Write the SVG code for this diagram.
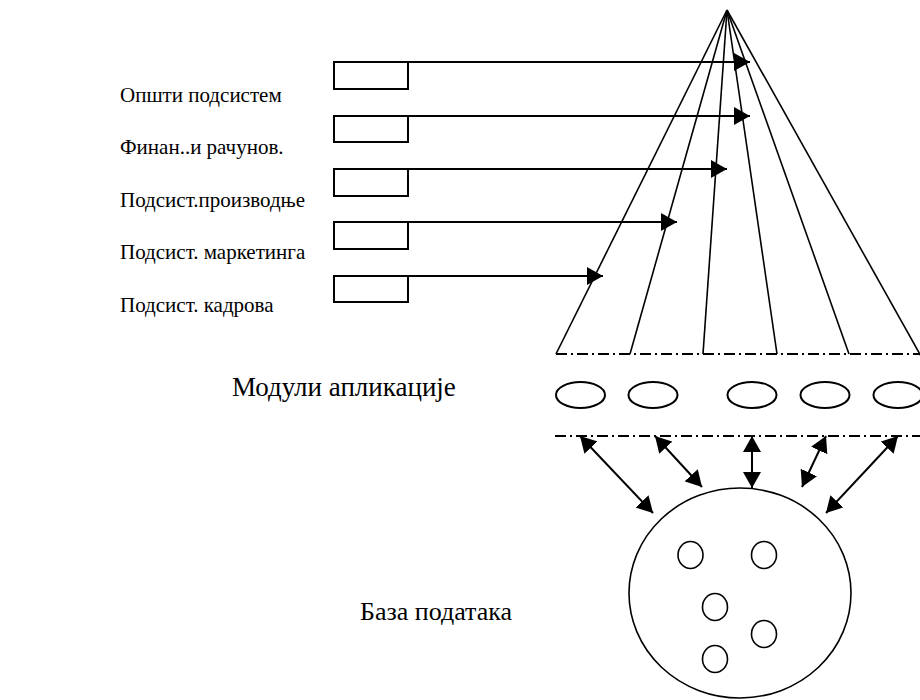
<svg xmlns="http://www.w3.org/2000/svg" width="920" height="700" viewBox="0 0 920 700">
  <style>
    .lbl { font-family: "Liberation Serif", "Times New Roman", serif; font-size: 21px; fill: #000; }
    .big { font-size: 27px; }
    .box { fill: #fff; stroke: #000; stroke-width: 2; }
    .fan { stroke: #000; stroke-width: 1.6; fill: none; }
    .feed { stroke: #000; stroke-width: 2.2; fill: none; marker-end: url(#head); }
    .link { stroke: #000; stroke-width: 2; fill: none; marker-start: url(#head); marker-end: url(#head); }
    .sep { stroke: #000; stroke-width: 2; stroke-dasharray: 11 4 2 4; fill: none; }
    .mod { fill: #fff; stroke: #000; stroke-width: 2; }
    .db { fill: #fff; stroke: #000; stroke-width: 1.6; }
  </style>
  <defs>
    <marker id="head" markerUnits="userSpaceOnUse" markerWidth="17" markerHeight="18" refX="16" refY="9" orient="auto-start-reverse">
      <path d="M0,0 L16,9 L0,18 z" fill="#000"/>
    </marker>
  </defs>
  <rect width="920" height="700" fill="#fff"/>

  <!-- subsystem labels -->
  <g id="labels">
    <text class="lbl" x="120" y="102">Општи подсистем</text>
    <text class="lbl" x="120" y="154">Финан..и рачунов.</text>
    <text class="lbl" x="120" y="207">Подсист.производње</text>
    <text class="lbl" x="120" y="259">Подсист. маркетинга</text>
    <text class="lbl" x="120" y="312">Подсист. кадрова</text>
  </g>

  <!-- subsystem boxes -->
  <g id="box-opsti"><rect class="box" x="334" y="62" width="74" height="27"/></g>
  <g id="box-finan"><rect class="box" x="334" y="116" width="74" height="26"/></g>
  <g id="box-proizv"><rect class="box" x="334" y="169" width="74" height="27"/></g>
  <g id="box-market"><rect class="box" x="334" y="222" width="74" height="27"/></g>
  <g id="box-kadrovi"><rect class="box" x="334" y="276" width="74" height="26"/></g>

  <!-- application modules layer -->
  <g id="modules">
    <text class="lbl big" x="232" y="396">Модули апликације</text>
    <ellipse class="mod" cx="580.5" cy="395" rx="24.5" ry="13"/>
    <ellipse class="mod" cx="653" cy="395" rx="24.5" ry="13"/>
    <ellipse class="mod" cx="752" cy="395" rx="24.5" ry="13"/>
    <ellipse class="mod" cx="825" cy="395" rx="24.5" ry="13"/>
    <ellipse class="mod" cx="898" cy="395" rx="24.5" ry="13"/>
  </g>

  <!-- database -->
  <g id="database">
    <text class="lbl big" x="360" y="620" style="font-size:26px">База података</text>
    <ellipse class="db" cx="740" cy="593" rx="111" ry="105"/>
    <ellipse class="db" cx="690.5" cy="555" rx="12.5" ry="13.5"/>
    <ellipse class="db" cx="764" cy="555" rx="12.5" ry="13.5"/>
    <ellipse class="db" cx="715" cy="607" rx="12.5" ry="13.5"/>
    <ellipse class="db" cx="764" cy="634" rx="12.5" ry="13.5"/>
    <ellipse class="db" cx="715" cy="659" rx="12.5" ry="13.5"/>
  </g>

  <!-- connectors -->
  <g id="connectors">
    <!-- fan from the top point down to the module layer -->
    <line class="fan" x1="727" y1="10" x2="556" y2="354"/>
    <line class="fan" x1="727" y1="10" x2="630" y2="354"/>
    <line class="fan" x1="727" y1="10" x2="703" y2="354"/>
    <line class="fan" x1="727" y1="10" x2="777" y2="354"/>
    <line class="fan" x1="727" y1="10" x2="849" y2="354"/>
    <line class="fan" x1="727" y1="10" x2="922" y2="358"/>

    <!-- layer separators -->
    <line class="sep" x1="556" y1="354" x2="920" y2="354"/>
    <line class="sep" x1="555" y1="436" x2="920" y2="436"/>

    <!-- subsystem feeds -->
    <line class="feed" x1="408" y1="62" x2="750" y2="62"/>
    <line class="feed" x1="408" y1="116" x2="750" y2="116"/>
    <line class="feed" x1="408" y1="169" x2="727" y2="169"/>
    <line class="feed" x1="408" y1="222" x2="677" y2="222"/>
    <line class="feed" x1="408" y1="276" x2="603" y2="276"/>

    <!-- module layer to database links -->
    <line class="link" x1="580" y1="436" x2="653" y2="513"/>
    <line class="link" x1="655" y1="436" x2="702" y2="487"/>
    <line class="link" x1="752" y1="436" x2="752" y2="488"/>
    <line class="link" x1="826" y1="436" x2="802" y2="487"/>
    <line class="link" x1="898" y1="436" x2="826" y2="513"/>
  </g>
</svg>
